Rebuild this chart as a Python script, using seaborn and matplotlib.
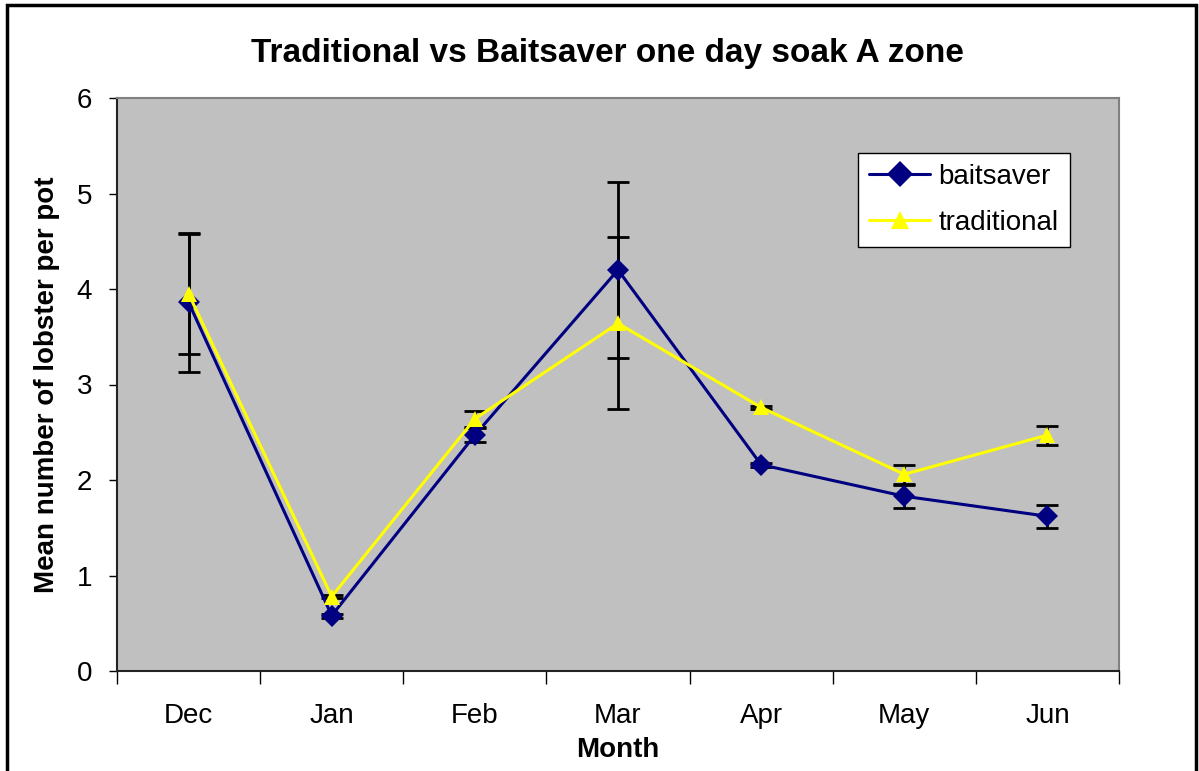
import pandas as pd
import matplotlib.pyplot as plt
import seaborn as sns
from matplotlib.patches import Rectangle

months = ["Dec", "Jan", "Feb", "Mar", "Apr", "May", "Jun"]
baitsaver = [3.86, 0.58, 2.47, 4.20, 2.16, 1.83, 1.62]
baitsaver_err = [0.73, 0.02, 0.07, 0.92, 0.02, 0.12, 0.12]
traditional = [3.95, 0.78, 2.64, 3.64, 2.76, 2.06, 2.47]
traditional_err = [0.63, 0.02, 0.08, 0.90, 0.02, 0.10, 0.10]

df = pd.concat(
    [
        pd.DataFrame({"Month": range(len(months)), "mean": baitsaver,
                      "err": baitsaver_err, "bait": "baitsaver"}),
        pd.DataFrame({"Month": range(len(months)), "mean": traditional,
                      "err": traditional_err, "bait": "traditional"}),
    ],
    ignore_index=True,
)

sns.set_style("white")
plt.rcParams["font.family"] = ["Liberation Sans", "DejaVu Sans"]
plt.rcParams["text.color"] = "black"
plt.rcParams["axes.labelcolor"] = "black"
plt.rcParams["xtick.color"] = "black"
plt.rcParams["ytick.color"] = "black"

fig = plt.figure(figsize=(11.99, 7.71), dpi=100)
ax = fig.add_axes([117 / 1199, 1 - 671 / 771, 1002 / 1199, 573 / 771])
ax.set_facecolor("#C0C0C0")

# error bars under the lines
for name, g in df.groupby("bait"):
    ax.errorbar(g["Month"], g["mean"], yerr=g["err"], fmt="none",
                ecolor="black", elinewidth=2, capsize=8, capthick=2, zorder=2.5)

palette = {"baitsaver": "#000080", "traditional": "#FFFF00"}
sns.lineplot(
    data=df, x="Month", y="mean", hue="bait", style="bait",
    palette=palette, markers={"baitsaver": "D", "traditional": "^"},
    dashes=False, linewidth=2.2, markersize=11, markeredgewidth=0,
    ax=ax, zorder=3,
)

ax.set_xlim(-0.5, len(months) - 0.5)
ax.set_ylim(0, 6)
ax.set_yticks(range(7))
ax.set_xticks(range(len(months)))
ax.set_xticklabels(months)
ax.set_xticks([i - 0.5 for i in range(len(months) + 1)], minor=True)
ax.tick_params(axis="x", which="major", length=0, labelsize=20, pad=23)
ax.tick_params(axis="x", which="minor", length=9, width=1, color="black",
               direction="out")
ax.tick_params(axis="y", length=6, width=1, color="black", direction="out",
               labelsize=20, pad=12)
ax.tick_params(left=True, bottom=True, which="both")

for s in ["left", "bottom"]:
    ax.spines[s].set_color("#222222")
    ax.spines[s].set_linewidth(1.5)
for s in ["top", "right"]:
    ax.spines[s].set_color("#808080")
    ax.spines[s].set_linewidth(1.5)

ax.set_xlabel("Month", fontsize=20, fontweight="bold", labelpad=6)
ax.set_ylabel("Mean number of lobster per pot", fontsize=20,
              fontweight="bold", labelpad=12)
ax.set_title("Traditional vs Baitsaver one day soak A zone", fontsize=24,
             fontweight="bold", pad=26, x=0.489)

leg = ax.legend(loc="upper left", bbox_to_anchor=(741 / 1002, 1 - 55 / 573),
                fontsize=20, frameon=True, fancybox=False, framealpha=1,
                edgecolor="black", handlelength=2.2, borderpad=0.4,
                labelspacing=0.7, handletextpad=0.3, borderaxespad=0,
                markerscale=1.2, title=None)
leg.get_frame().set_linewidth(1)

fig.patches.append(Rectangle((7 / 1199, -0.01), 1189 / 1199, 1 - 5 / 771 + 0.01,
                             transform=fig.transFigure, fill=False,
                             edgecolor="black", linewidth=2.5))

plt.savefig("out.png", dpi=100)
